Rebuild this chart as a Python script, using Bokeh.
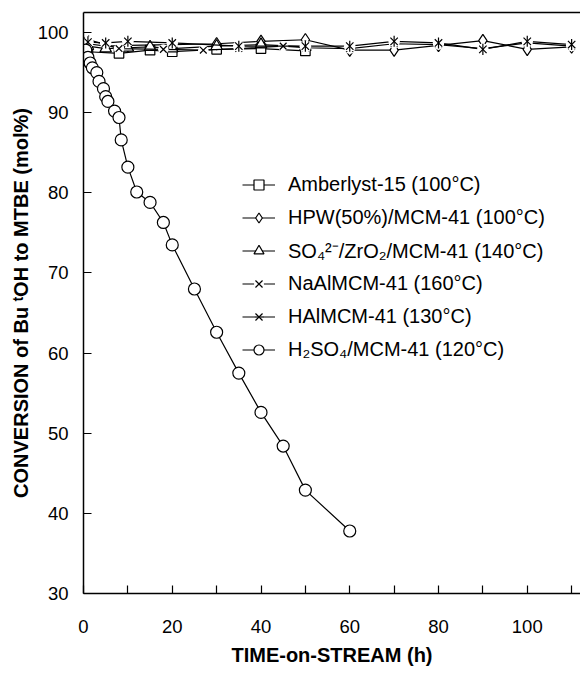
from bokeh.plotting import figure
from bokeh.models import Range1d, FixedTicker, LinearAxis, Legend, LegendItem
from bokeh.embed import file_html
from bokeh.resources import INLINE

# ---- data ----
amb_t = [1, 8, 15, 20, 30, 40, 50]
amb_v = [97.6, 97.4, 97.8, 97.6, 97.9, 98.0, 97.7]

hpw_t = [1, 5, 10, 20, 30, 40, 50, 60, 70, 80, 90, 100, 110]
hpw_v = [98.6, 98.3, 98.4, 98.5, 98.6, 98.9, 99.1, 97.8, 97.8, 98.4, 99.0, 97.9, 98.2]

so4_t = [1, 5, 10, 15, 20, 30, 40, 50]
so4_v = [98.3, 98.0, 98.1, 98.2, 98.0, 98.3, 98.5, 98.2]

naal_t = [0.5, 8, 18, 27, 35, 45, 50, 60, 70, 80, 90, 100, 110]
naal_v = [99.2, 98.0, 97.9, 97.8, 98.0, 98.3, 98.1, 98.0, 98.6, 98.5, 98.0, 98.7, 98.3]

hal_t = [1, 5, 10, 20, 35, 50, 60, 70, 80, 90, 100, 110]
hal_v = [98.8, 98.7, 98.9, 98.7, 98.3, 98.3, 98.3, 98.9, 98.7, 97.9, 98.9, 98.5]

h2so4_t = [0, 0.5, 1, 1.5, 2, 3, 3.5, 4.5, 5, 5.5, 7, 8, 8.5, 10, 12, 15, 18, 20, 25, 30, 35, 40, 45, 50, 60]
h2so4_v = [97.2, 97.8, 96.9, 96.2, 95.6, 95.0, 93.9, 93.0, 92.0, 91.4, 90.2, 89.4, 86.6, 83.2, 80.1, 78.8,
           76.3, 73.5, 68.0, 62.6, 57.5, 52.6, 48.4, 42.9, 37.8]

labels = ["Amberlyst-15 (100°C)", "HPW(50%)/MCM-41 (100°C)", "SO₄²⁻/ZrO₂/MCM-41 (140°C)",
          "NaAlMCM-41 (160°C)", "HAlMCM-41 (130°C)", "H₂SO₄/MCM-41 (120°C)"]

x_major = [0, 20, 40, 60, 80, 100]
x_minor = [10, 30, 50, 70, 90, 110]
y_major = [30, 40, 50, 60, 70, 80, 90, 100]

FONT = "Liberation Sans"

p = figure(width=580, height=674, x_range=Range1d(0, 112), y_range=Range1d(30, 102.5),
           output_backend="svg", toolbar_location=None,
           min_border_left=83, min_border_right=0, min_border_top=12, min_border_bottom=81)
p.grid.visible = False
p.outline_line_color = None
p.background_fill_color = "white"
p.border_fill_color = "white"

LW = 1.2


def series(t, v, marker, size, mask=False, extra=None):
    rs = [p.line(t, v, line_color="black", line_width=LW)]
    if mask:
        rs.append(p.scatter(t, v, marker="circle", size=size * 1.1, fill_color="white", line_color=None))
    rs.append(p.scatter(t, v, marker=marker, size=size, line_color="black", fill_color="white", line_width=LW))
    if extra is not None:
        rs.append(p.scatter(t, v, marker=extra, size=size * 1.05, angle=1.5708,
                            line_color="black", line_width=LW))
    return rs


r_amb = series(amb_t, amb_v, "square", 9.5)
r_hpw = series(hpw_t, hpw_v, "diamond", 12.5)
r_so4 = series(so4_t, so4_v, "triangle", 11.5)
r_naal = series(naal_t, naal_v, "x", 9.5, mask=True)
r_hal = series(hal_t, hal_v, "x", 10.5, mask=True, extra="dash")
r_h2 = series(h2so4_t, h2so4_v, "circle", 12)

items = [LegendItem(label=lab, renderers=rs) for lab, rs in
         zip(labels, [r_amb, r_hpw, r_so4, r_naal, r_hal, r_h2])]
legend = Legend(items=items, location=(159, 227), glyph_width=33, glyph_height=25,
                label_height=33, spacing=0, padding=0, margin=0, label_standoff=13,
                border_line_color=None, background_fill_alpha=0,
                label_text_font=FONT, label_text_font_size="20px", label_text_color="black")
p.add_layout(legend)

# axes
for ax in (p.xaxis, p.yaxis):
    ax.axis_line_width = 1.5
    ax.axis_line_color = "black"
    ax.major_tick_line_color = "black"
    ax.major_tick_line_width = 1.2
    ax.major_tick_in = 8
    ax.major_tick_out = 0
    ax.major_label_text_font = FONT
    ax.major_label_text_font_size = "18.5px"
    ax.major_label_text_color = "black"
    ax.axis_label_text_font = FONT
    ax.axis_label_text_font_style = "bold"
    ax.axis_label_text_font_size = "20px"
    ax.axis_label_text_color = "black"

p.xaxis.ticker = FixedTicker(ticks=x_major, minor_ticks=x_minor)
p.xaxis.minor_tick_line_color = "black"
p.xaxis.minor_tick_line_width = 1.2
p.xaxis.minor_tick_in = 8
p.xaxis.minor_tick_out = 0
p.xaxis.major_label_standoff = 26
p.xaxis.axis_label = "TIME-on-STREAM (h)"
p.xaxis.axis_label_standoff = 8

p.yaxis.ticker = FixedTicker(ticks=y_major)
p.yaxis.minor_tick_line_color = None
p.yaxis.major_label_standoff = 15
p.yaxis.axis_label = "CONVERSION of Bu ᵗOH to MTBE (mol%)"
p.yaxis.axis_label_standoff = 3

top = LinearAxis(ticker=FixedTicker(ticks=[]), axis_line_width=1.5, axis_line_color="black",
                 major_tick_line_color=None, minor_tick_line_color=None,
                 major_label_text_font_size="0px", major_label_standoff=0)
p.add_layout(top, "above")

open("out.html", "w").write(file_html(p, INLINE))
